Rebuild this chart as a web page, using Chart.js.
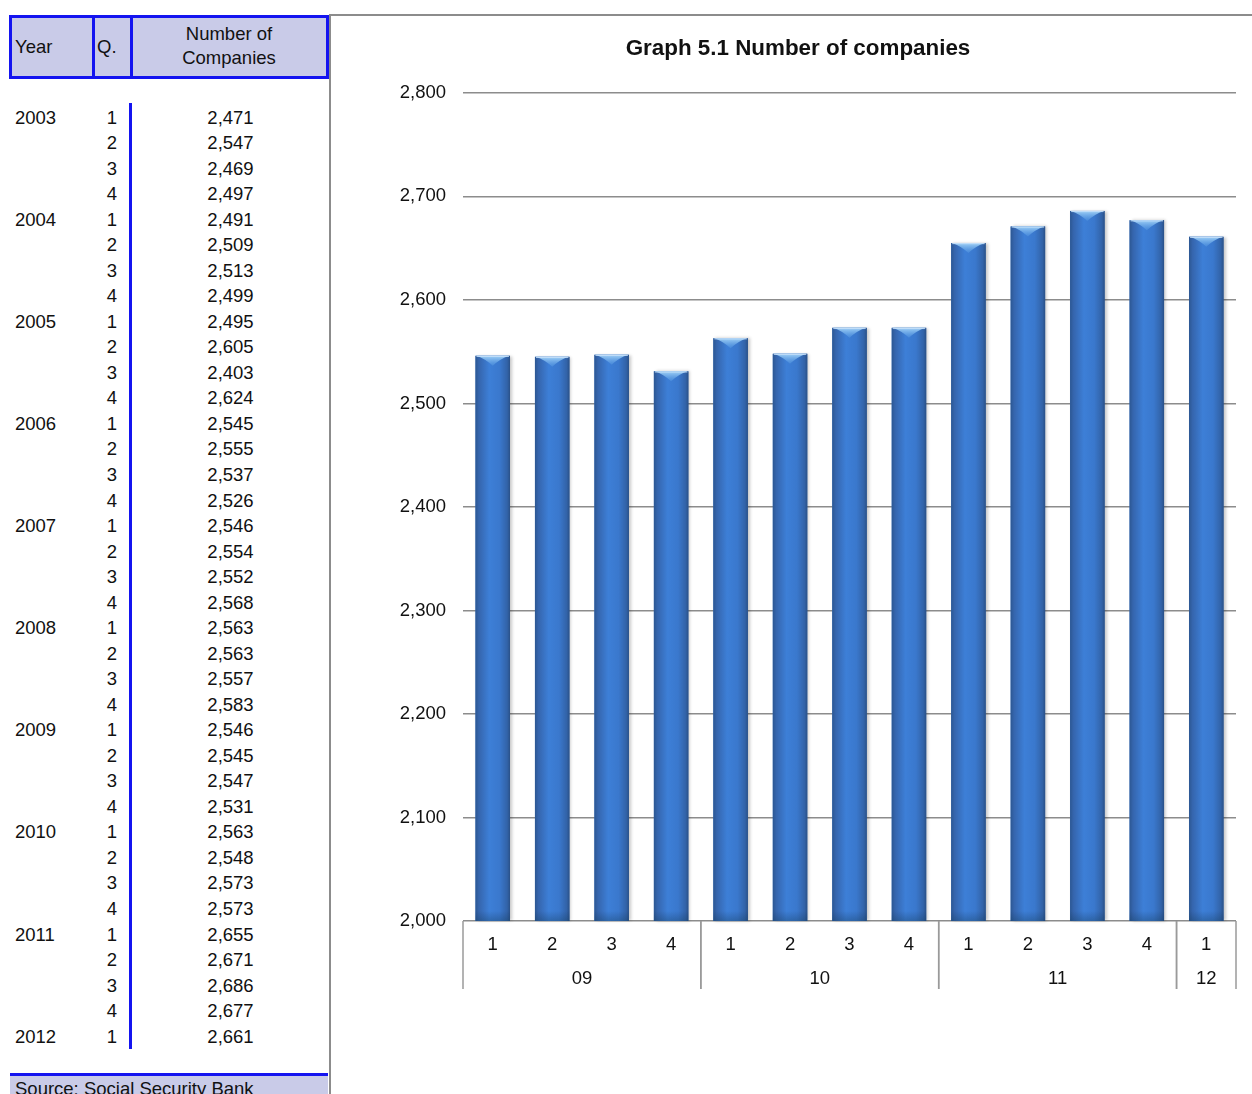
<!DOCTYPE html>
<html>
<head>
<meta charset="utf-8">
<script src="https://cdn.jsdelivr.net/npm/chart.js@4/dist/chart.umd.min.js"></script>
<style>
body{margin:0;background:#fff;font-family:"Liberation Sans",Arial,sans-serif;color:#111;}
#page{position:relative;width:1252px;height:1094px;overflow:hidden;}
.abs{position:absolute;white-space:nowrap;font-size:18.5px;}
#head{position:absolute;left:9px;top:15px;width:320px;height:64px;box-sizing:border-box;border:3px solid #1414f0;background:#c9cbe8;}
.vdiv{position:absolute;top:0;width:3px;height:100%;background:#1414f0;}
#frameTop{position:absolute;left:329px;top:14px;width:923px;height:2px;background:#8c8c8c;}
#frameLeft{position:absolute;left:329px;top:14px;width:2px;height:1080px;background:#8c8c8c;}
#qline{position:absolute;left:129px;top:103px;width:3px;height:946px;background:#1414f0;}
#foot{position:absolute;left:10px;top:1073px;width:318px;height:21px;border-top:3px solid #1414f0;background:#c9cbe8;}
#chartBox{position:absolute;left:331px;top:16px;width:921px;height:1078px;}
</style>
</head>
<body>
<div id="page">
  <div id="frameTop"></div>
  <div id="frameLeft"></div>
  <div id="head">
    <div class="vdiv" style="left:80px"></div>
    <div class="vdiv" style="left:118px"></div>
  </div>
  <div class="abs" style="left:15px;top:35px;line-height:24px">Year</div>
  <div class="abs" style="left:97px;top:35px;line-height:24px">Q.</div>
  <div class="abs" style="left:130px;width:198px;top:22px;line-height:24px;text-align:center">Number of<br>Companies</div>
  <div id="qline"></div>
  <div id="rows"></div>
  <div id="foot"></div>
  <div class="abs" style="left:15px;top:1077px;line-height:24px">Source: Social Security Bank</div>
  <div id="chartBox"><canvas id="c1" width="921" height="1078"></canvas></div>
</div>
<script>
// table data (2003 Q1 .. 2012 Q1)
var tableYears = ['2003', '2004', '2005', '2006', '2007', '2008', '2009', '2010', '2011', '2012'];
var tableValues = [
    2471, 2547, 2469, 2497,
    2491, 2509, 2513, 2499,
    2495, 2605, 2403, 2624,
    2545, 2555, 2537, 2526,
    2546, 2554, 2552, 2568,
    2563, 2563, 2557, 2583,
    2546, 2545, 2547, 2531,
    2563, 2548, 2573, 2573,
    2655, 2671, 2686, 2677,
    2661
];

// chart data (2009 Q1 .. 2012 Q1)
var chartQuarters = ['1', '2', '3', '4', '1', '2', '3', '4', '1', '2', '3', '4', '1'];
var chartYears = ['09', '10', '11', '12'];
var chartYearCounts = [4, 4, 4, 1];
var chartValues = [2546, 2545, 2547, 2531, 2563, 2548, 2573, 2573, 2655, 2671, 2686, 2677, 2661];

var fmt = (v) => Number(v).toLocaleString('en-US');

(function(){
    var rows = document.getElementById('rows');
    var html = '';
    tableValues.forEach(function(v, i){
        var cy = 117.5 + i * 25.53;
        var top = (cy - 12).toFixed(1);
        if (i % 4 === 0)
            html += '<div class="abs" style="left:15px;top:' + top + 'px;line-height:24px">' + tableYears[i / 4] + '</div>';
        html += '<div class="abs" style="left:60px;width:57px;text-align:right;top:' + top + 'px;line-height:24px">' + (i % 4 + 1) + '</div>';
        html += '<div class="abs" style="left:131px;width:199px;text-align:center;top:' + top + 'px;line-height:24px">' + fmt(v) + '</div>';
    });
    rows.innerHTML = html;
})();

var FONT = '"Liberation Sans", Arial, sans-serif';

// glossy look of the bars + the year row under the quarter labels
var barShine = {
    id: 'barShine',
    afterDatasetsDraw: function(chart){
        var ctx = chart.ctx;
        var area = chart.chartArea;
        chart.getDatasetMeta(0).data.forEach(function(el){
            var p = el.getProps(['x', 'y', 'base', 'width'], true);
            var l = p.x - p.width / 2, r = p.x + p.width / 2, t = p.y, w = p.width;
            var b = Math.min(p.base, area.bottom);
            ctx.save();
            ctx.shadowColor = 'rgba(0,0,0,0.22)';
            ctx.shadowOffsetX = 2;
            ctx.shadowBlur = 3;
            var g = ctx.createLinearGradient(l, 0, r, 0);
            g.addColorStop(0, '#2c5792');
            g.addColorStop(0.1, '#3565ad');
            g.addColorStop(0.4, '#3d7fd7');
            g.addColorStop(0.7, '#3a78cd');
            g.addColorStop(0.92, '#3263a8');
            g.addColorStop(1, '#2a5188');
            ctx.fillStyle = g;
            ctx.fillRect(l, t, w, b - t);
            ctx.restore();
            // darker foot
            ctx.save();
            var gb = ctx.createLinearGradient(0, b - 10, 0, b);
            gb.addColorStop(0, 'rgba(20,50,90,0)');
            gb.addColorStop(1, 'rgba(20,60,90,0.35)');
            ctx.fillStyle = gb;
            ctx.fillRect(l, b - 10, w, 10);
            // light cap on top
            var gt = ctx.createLinearGradient(0, t, 0, t + 11);
            gt.addColorStop(0, '#a4d3f7');
            gt.addColorStop(1, 'rgba(90,160,230,0.25)');
            ctx.fillStyle = gt;
            ctx.beginPath();
            ctx.moveTo(l + 1, t);
            ctx.lineTo(r - 1, t);
            ctx.quadraticCurveTo(p.x + w * 0.22, t + 3, p.x, t + 10);
            ctx.quadraticCurveTo(p.x - w * 0.22, t + 3, l + 1, t);
            ctx.closePath();
            ctx.fill();
            ctx.fillStyle = 'rgba(200,225,250,0.8)';
            ctx.fillRect(l + 1, t, w - 2, 1.2);
            ctx.restore();
        });
    },
    afterDraw: function(chart){
        var ctx = chart.ctx;
        var xs = chart.scales.x;
        var area = chart.chartArea;
        var step = xs.getPixelForValue(1) - xs.getPixelForValue(0);
        var start = 0;
        ctx.save();
        ctx.strokeStyle = '#9a9a9a';
        ctx.lineWidth = 1.5;
        ctx.fillStyle = '#111';
        ctx.font = '18.5px ' + FONT;
        ctx.textAlign = 'center';
        ctx.textBaseline = 'middle';
        chartYears.forEach(function(yr, g){
            var n = chartYearCounts[g];
            var left = xs.getPixelForValue(start) - step / 2;
            var right = xs.getPixelForValue(start + n - 1) + step / 2;
            [left, right].forEach(function(px){
                ctx.beginPath();
                ctx.moveTo(px, area.bottom);
                ctx.lineTo(px, area.bottom + 68);
                ctx.stroke();
            });
            ctx.fillText(yr, (left + right) / 2, area.bottom + 58);
            start += n;
        });
        ctx.restore();
    }
};

(function(divId){
    var data = {
        labels: chartQuarters,
        datasets: [
            {
                label: 'Number of companies',
                data: chartValues,
                backgroundColor: '#3a78cc',
                barPercentage: 0.58,
                categoryPercentage: 1
            }
        ]
    };

    var options = {
        responsive: false,
        animation: false,
        devicePixelRatio: 1,
        layout: { padding: { left: 29, right: 16, top: 0, bottom: 0 } },
        plugins: {
            legend: { display: false },
            tooltip: { enabled: false },
            title: {
                display: true,
                text: 'Graph 5.1 Number of companies',
                color: '#111',
                font: { family: FONT, size: 22.4, weight: 'bold' },
                padding: { top: 19, bottom: 31 }
            }
        },
        scales: {
            x: {
                offset: true,
                grid: { display: false, drawTicks: false },
                border: { display: false },
                ticks: { color: '#111', font: { family: FONT, size: 18.5 }, padding: 13, maxRotation: 0, autoSkip: false },
                afterFit: function(s){ s.height = 173; }
            },
            y: {
                min: 2000,
                max: 2800,
                grid: { color: '#8c8c8c', lineWidth: 1.5, drawTicks: false },
                border: { display: false },
                ticks: { stepSize: 100, color: '#111', font: { family: FONT, size: 18.5 }, padding: 17, callback: (v) => fmt(v) },
                afterFit: function(s){ s.width = 103; }
            }
        }
    };

    var div = document.getElementById(divId);
    if (!div)
        return;

    var ctx = div.getContext("2d");
    var chart = new Chart(ctx, {
        type: 'bar',
        data: data,
        options: options,
        plugins: [barShine]
    });
})("c1");
</script>
</body>
</html>
